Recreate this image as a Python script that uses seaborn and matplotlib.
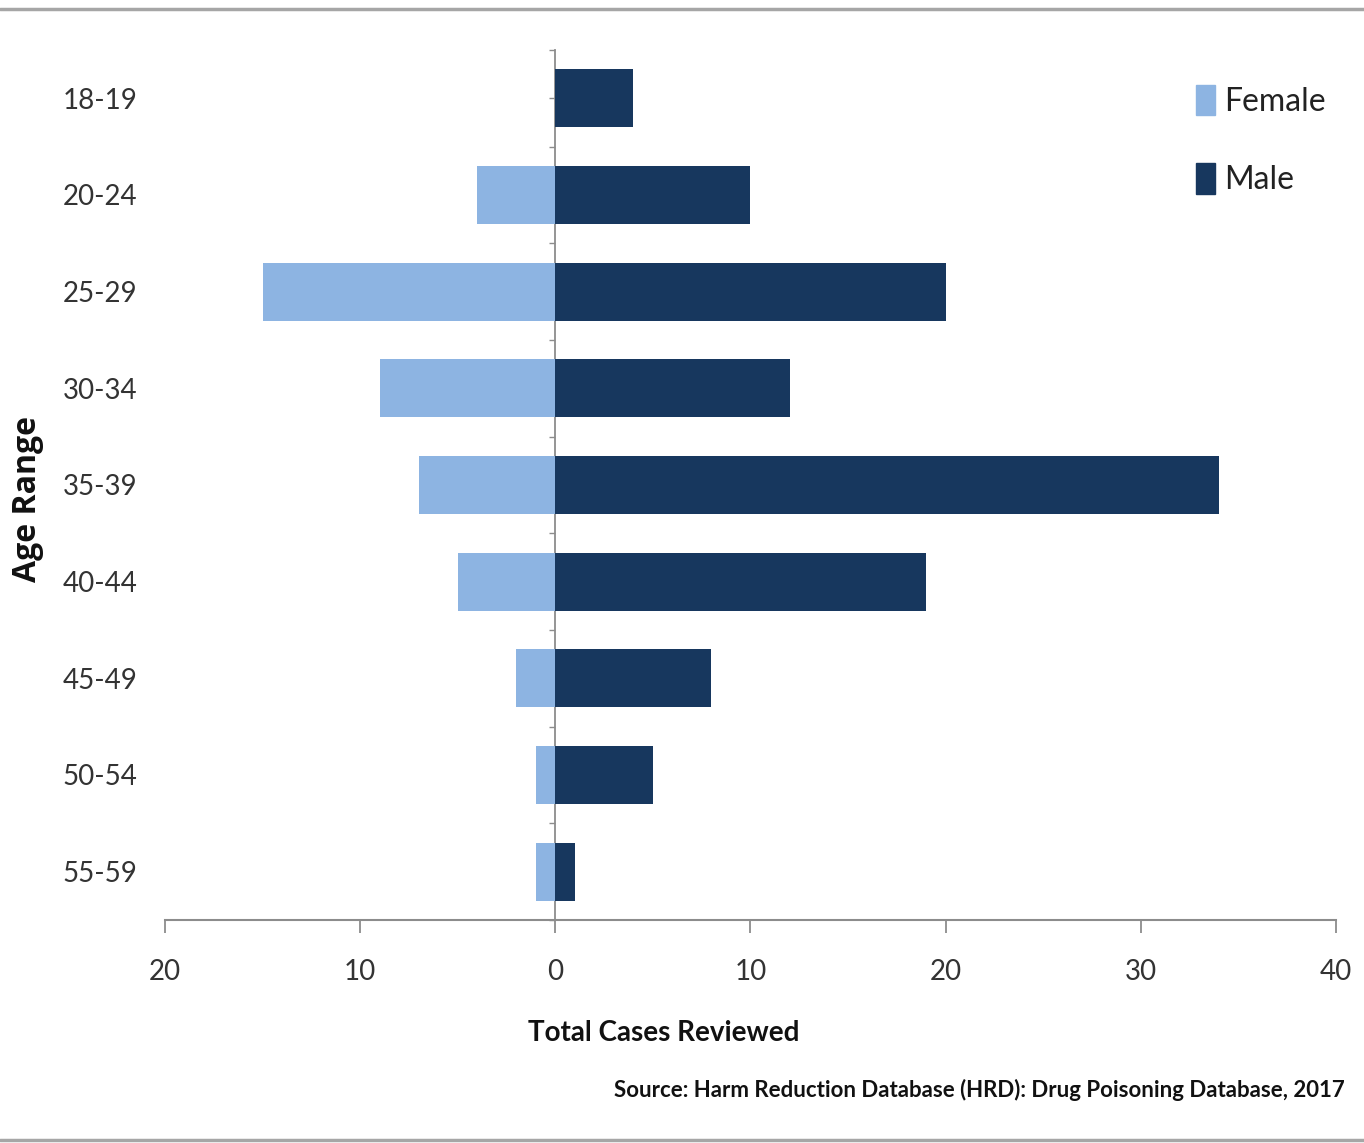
import matplotlib
matplotlib.use("Agg")
import matplotlib.pyplot as plt
from matplotlib.lines import Line2D
import seaborn as sns
import pandas as pd
import numpy as np

age_ranges = ["18-19", "20-24", "25-29", "30-34", "35-39", "40-44", "45-49", "50-54", "55-59"]
female = [0, 4, 15, 9, 7, 5, 2, 1, 1]
male = [4, 10, 20, 12, 34, 19, 8, 5, 1]
x_ticks = [-20, -10, 0, 10, 20, 30, 40]
x_tick_labels = ["20", "10", "0", "10", "20", "30", "40"]

female_color = "#8DB4E2"
male_color = "#17375E"

sns.set_theme(style="white")
plt.rcParams["font.family"] = ["Lato", "DejaVu Sans"]

df = pd.DataFrame({
    "Age Range": age_ranges * 2,
    "Cases": [-v for v in female] + male,
    "Sex": ["Female"] * len(female) + ["Male"] * len(male),
})

fig = plt.figure(figsize=(13.64, 11.43), dpi=100)
ax = fig.add_axes([165 / 1364, 1 - 920 / 1143, (1336 - 165) / 1364, (920 - 50) / 1143])

sns.barplot(data=df, x="Cases", y="Age Range", hue="Sex", order=age_ranges,
            hue_order=["Female", "Male"], palette=[female_color, male_color],
            dodge=False, orient="h", width=0.6, ax=ax, legend=False, linewidth=0,
            saturation=1)

ax.set_xlim(-20, 40)
ax.set_ylim(len(age_ranges) - 0.5, -0.5)

grey = "#8C8C8C"
for s in ["top", "right", "left"]:
    ax.spines[s].set_visible(False)
ax.spines["bottom"].set_color(grey)
ax.spines["bottom"].set_linewidth(1.5)

ax.set_xticks(x_ticks)
ax.set_xticklabels(x_tick_labels)
ax.tick_params(axis="x", direction="out", length=9, width=1.3, color=grey, pad=19,
               labelsize=20, labelcolor="#333333", bottom=True)
ax.tick_params(axis="y", length=0, pad=20, labelsize=20, labelcolor="#333333")

# central vertical axis at zero
sec = ax.secondary_yaxis(0, transform=ax.transData)
sec.spines["left"].set_color(grey)
sec.spines["left"].set_linewidth(1.3)
sec.set_yticks(np.arange(len(age_ranges)))
sec.set_yticks(np.arange(len(age_ranges) + 1) - 0.5, minor=True)
sec.set_yticklabels([])
sec.tick_params(axis="y", which="both", direction="out", length=4, width=1.0, color=grey)

ax.set_ylabel("Age Range", fontsize=23, fontweight="bold", color="#111111",
              family=["Open Sans", "DejaVu Sans"])
ax.yaxis.set_label_coords(-0.103, 0.484)
ax.set_xlabel("Total Cases Reviewed", fontsize=20, fontweight="bold", color="#111111")
ax.xaxis.set_label_coords(0.426, -0.115)

handles = [plt.Rectangle((0, 0), 1, 1, color=female_color),
           plt.Rectangle((0, 0), 1, 1, color=male_color)]
fig.legend(handles, ["Female", "Male"], loc="upper left",
           bbox_to_anchor=(1167 / 1364, 1 - 56 / 1143), frameon=False,
           fontsize=23, handlelength=0.6, handleheight=1.1, handletextpad=0.3,
           labelspacing=1.45, labelcolor="#222222")

fig.text(1345 / 1364, 1 - 1090 / 1143,
         "Source: Harm Reduction Database (HRD): Drug Poisoning Database, 2017",
         ha="right", va="center", fontsize=16, fontweight="bold", color="#111111",
         family=["Lato", "DejaVu Sans"])

# outer frame lines at top and bottom
fig.add_artist(Line2D([0, 1], [1 - 9 / 1143, 1 - 9 / 1143], transform=fig.transFigure,
                      color="#A6A6A6", linewidth=2.5))
fig.add_artist(Line2D([0, 1], [1 - 1140 / 1143, 1 - 1140 / 1143], transform=fig.transFigure,
                      color="#A6A6A6", linewidth=2.5))

fig.savefig("out.png", dpi=100)
